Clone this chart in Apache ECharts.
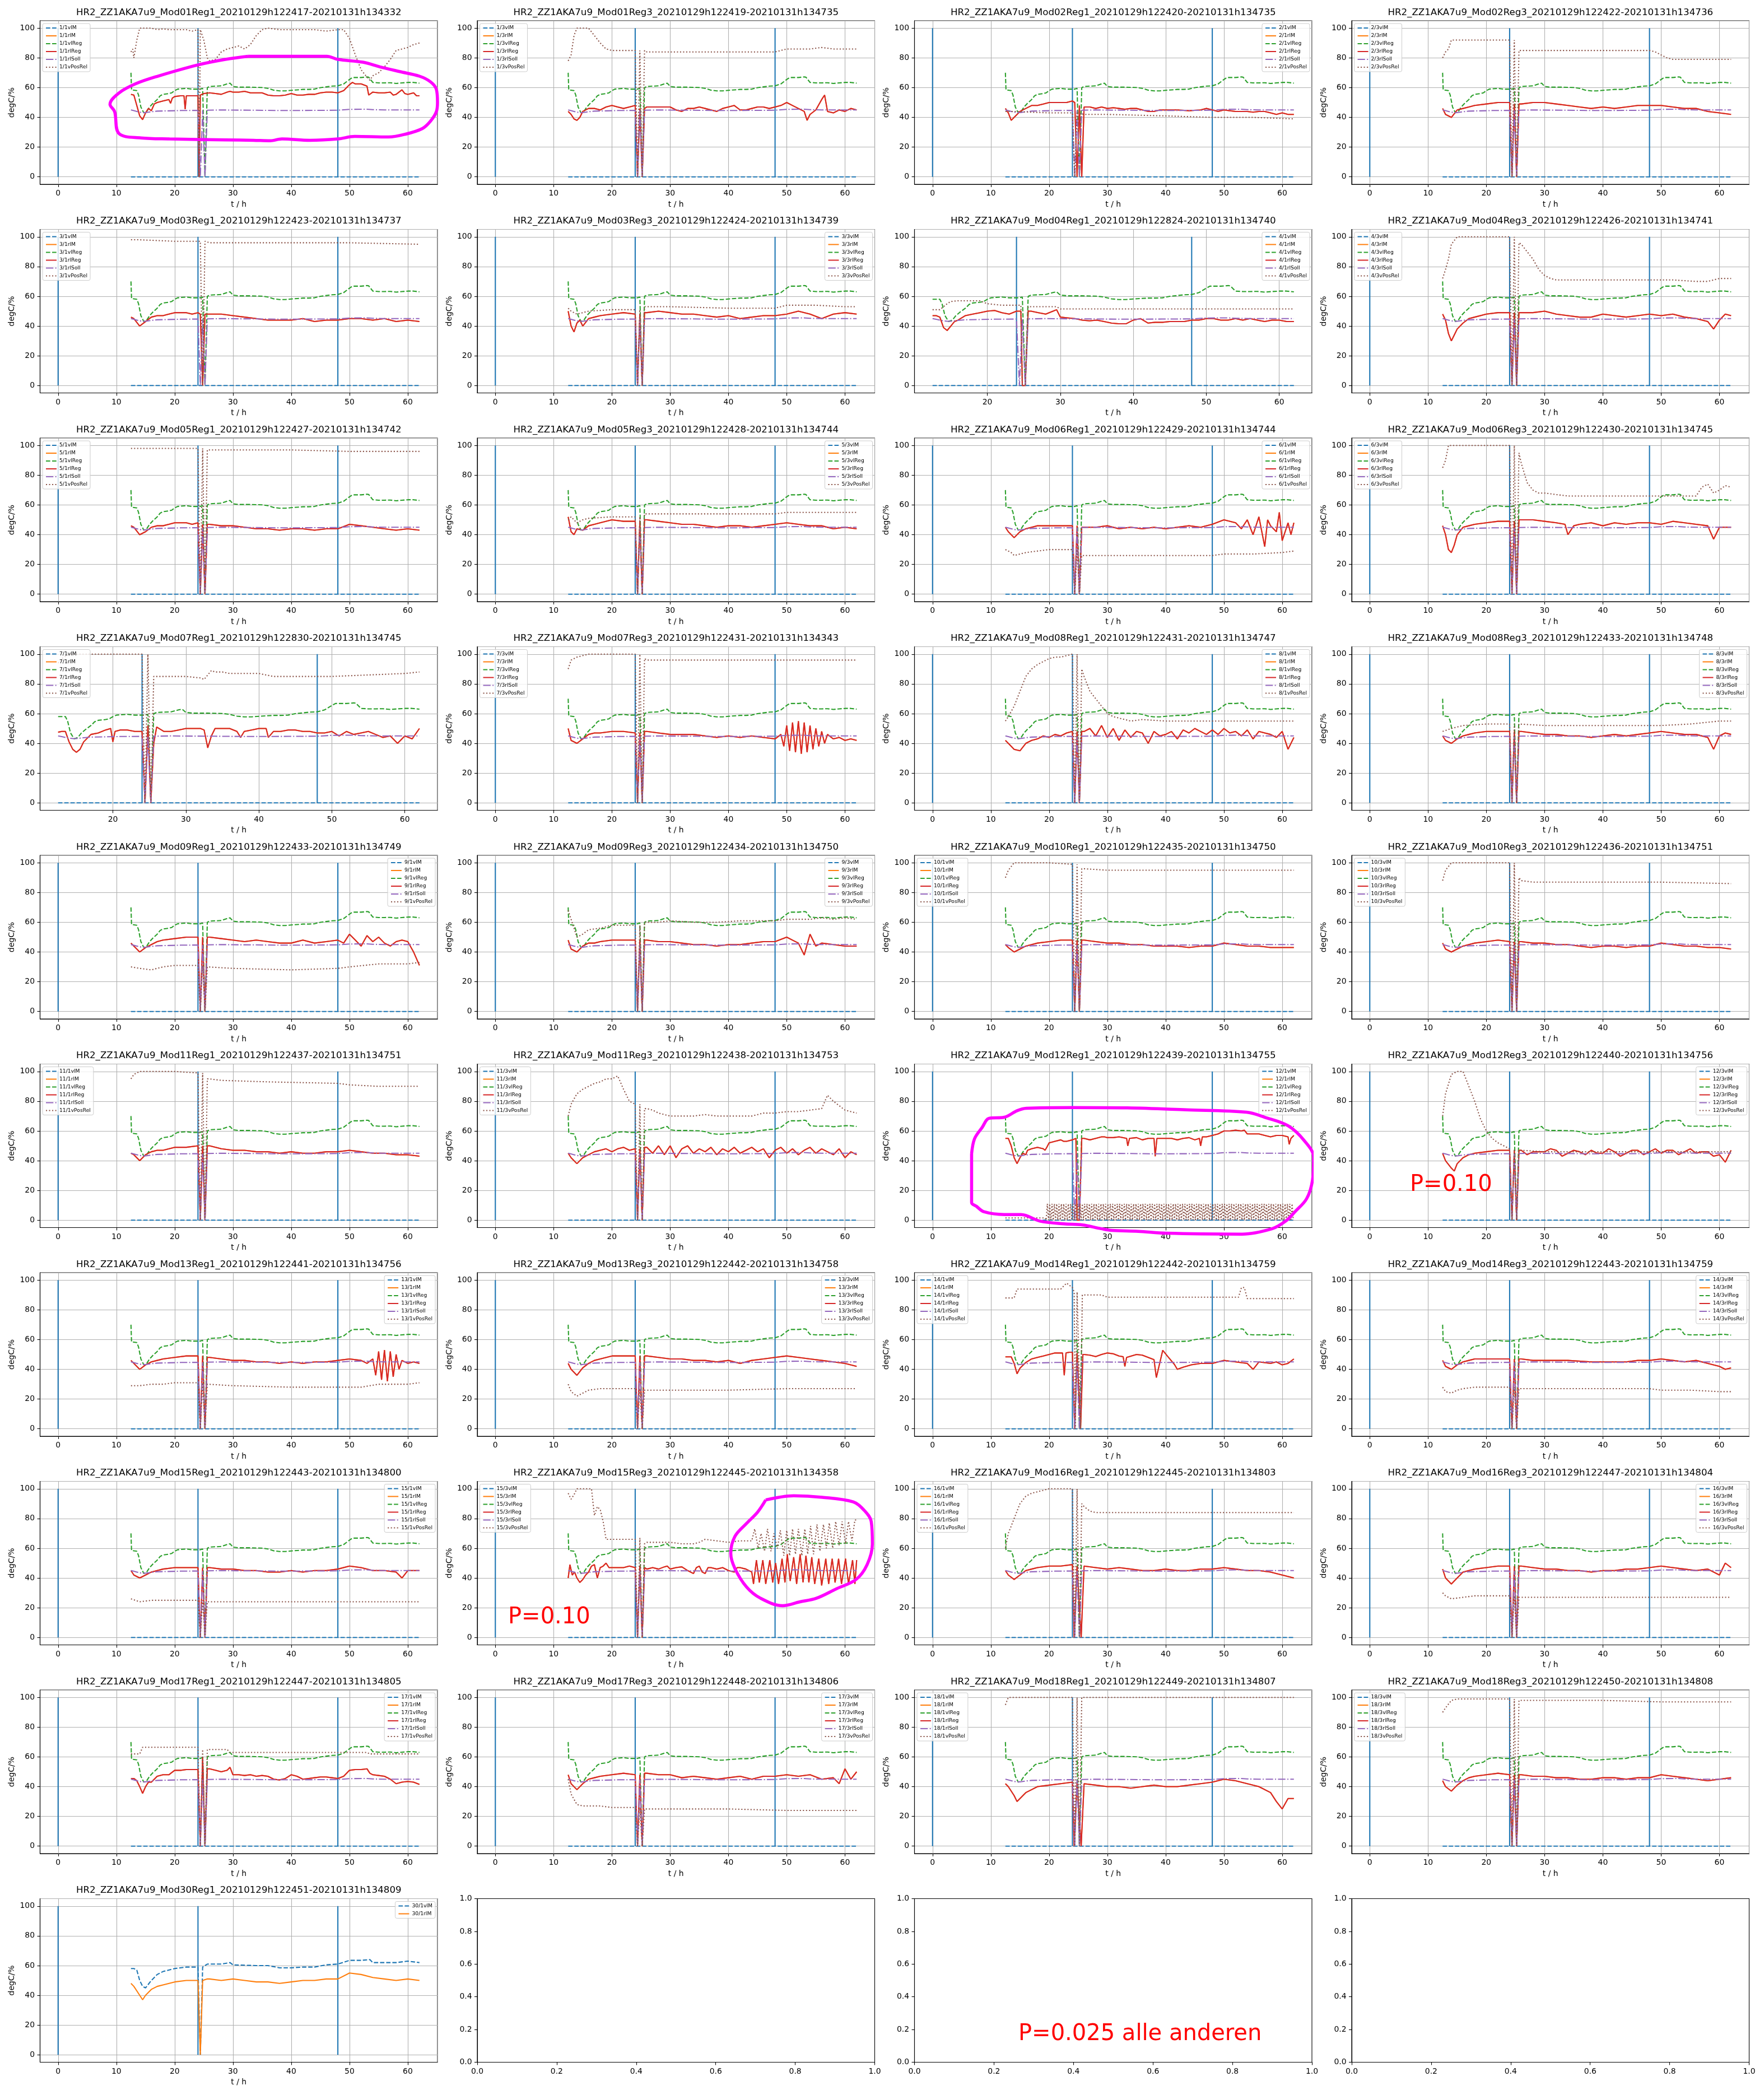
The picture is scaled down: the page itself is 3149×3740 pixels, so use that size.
<!DOCTYPE html>
<html><head><meta charset="utf-8">
<script src="https://cdn.jsdelivr.net/npm/echarts@6/dist/echarts.min.js"></script>
<style>html,body{margin:0;padding:0;background:#fff}#c{width:3149px;height:3740px}</style>
</head><body><div id="c"></div>
<script>
// ---------- shared series (same in nearly every panel) ----------
const GREEN_HEAD70 = [12.5,70];
const GREEN_HEAD58 = [12.5,58];
const GREEN_TAIL = [12.6,58.5, 13.5,58, 13.8,55, 14.2,47, 14.7,43, 15.2,44, 15.7,47, 16.3,49.5, 17,52, 17.5,54.5, 18,55.5, 19,56, 19.5,56.5, 20,58, 20.5,59, 22,59.5, 23,59, 24,59, 24.4,59, 24.8,59.5, 25.2,0, 25.6,60, 26,60.8, 27,61, 28,61.2, 29,62.5, 29.5,63, 30,60.8, 31,60.3, 33,60.3, 35,60.1, 36,59.5, 37,58.3, 38,57.8, 39,57.8, 40,58.2, 41,58.5, 42,58.8, 43,58.8, 44,59, 45,60, 46,60.5, 47,61, 48,61.2, 49,62.5, 50,65.5, 50.5,66.8, 52,66.8, 53,67.2, 53.3,67, 54,63.5, 55,63.2, 56,63.2, 57,63.3, 58,62.8, 59,63.2, 60,63.5, 61,63.5, 62,63];
const SOLL = [12.5,45, 13,44.5, 13.5,44, 14,43.5, 14.5,43.2, 15,43.2, 16,43.8, 17,44.2, 19,44.4, 21,44.6, 24,44.7, 24.4,0, 24.8,44.7, 25.2,0, 25.6,44.8, 28,45, 30,44.9, 34,44.8, 38,44.6, 44,44.7, 48,44.8, 50,45.4, 53,45.5, 54,45.2, 56,45, 62,45];
const VLM = [12.5,0, 62,0];

// ---------- per panel return temperature (rlReg == rlM) and valve position ----------
const rl_M01R1 = [12.5,55.5, 13,55, 13.5,48, 14,41, 14.5,38.5, 15,43, 15.5,46, 16,44.5, 16.5,49, 17,50, 18,51, 19,52, 19.3,49.5, 19.6,53, 20,54, 21,54.5, 21.6,54.5, 21.8,45.5, 22,54.5, 23,54.5, 24,54.5, 24.2,0, 24.4,55, 25,56, 26,56.5, 27,56, 28,55.5, 29,57, 29.5,57.5, 30,57, 31,57, 32,57.5, 33,56.5, 34,56.5, 35,56.5, 36,55, 37,54.5, 38,54.5, 39,55, 40,56, 41,55, 42,55, 43,55.5, 44,55.5, 45,56.5, 46,57, 47,57, 48,56.5, 49,58, 50,62, 50.5,63.5, 51,62.5, 52,62.5, 53,61, 53.3,55, 54,57, 55,56.5, 56,56.5, 57,57, 57.5,55, 58,55.5, 59,58.5, 59.5,56, 60,55.5, 61,56.5, 61.5,54.5, 62,54.5];
const vp_M01R1 = [12.5,84, 12.8,86, 13,80, 13.5,92, 14,100, 15,100, 16,100, 17,99, 18,99.5, 19,99, 20,99, 21,99, 22,99, 23,98, 24,99, 24.2,0, 24.4,99, 25,92, 25.6,80, 26,78, 27,79, 28,84, 29,86, 30,87, 31,88, 32,86, 33,89, 34,95, 35,99, 36,100, 38,99, 40,99, 42,99, 44,99, 46,98, 48,99, 49,99, 50,93, 51,82, 52,72, 53,67, 53.5,65, 54,68, 55,70, 56,74, 57,79, 58,85, 59,86, 60,87, 61,89, 62,90];
const rl_M01R3 = [12.5,44, 13,42, 13.5,39, 14,38, 14.5,40, 15,44, 16,46, 17,46, 18,45, 19,47, 20,48, 21,47, 22,46, 23,47, 24,48, 24.4,0, 24.8,46, 25.2,0, 25.6,46, 26,47, 28,47, 30,47, 31,45, 32,44, 33,46, 34,46, 35,47, 36,46, 37,45, 38,44, 39,46, 40,47, 41,48, 42,45, 43,45, 44,46, 45,47, 46,47, 47,46, 48,47, 49,48, 50,50, 51,48, 52,46, 53,44, 53.5,38, 54,42, 55,45, 56,52, 56.5,55, 57,44, 58,43, 59,45, 60,44, 61,46, 62,45];
const vp_M01R3 = [12.5,78, 13,82, 13.5,95, 14,100, 15,100, 16,100, 17,95, 18,90, 19,86, 20,85, 22,85, 24,85, 24.4,0, 24.8,85, 25.2,0, 25.6,85, 26,84, 30,84, 35,84, 40,84, 45,84, 48,84, 50,86, 52,86, 54,86, 56,87, 58,86, 60,86, 62,86];
const rl_M02R1 = [12.5,46, 13,43, 13.5,38, 14,40, 15,44, 16,46, 17,48, 18,48, 19,49, 20,50, 21,50, 22,50, 23,50, 24,51, 24.4,50, 24.8,0, 25.2,48, 25.6,0, 26,47, 27,47, 28,46, 29,47, 30,46, 31,46.5, 32,46, 33,45.5, 34,46, 35,46, 36,45, 37,44, 38,44, 39,45, 40,45, 42,45, 44,44.5, 46,45, 47,46, 48,45, 49,44, 50,45, 51,44.5, 52,44, 54,44, 55,43.5, 56,44, 57,44, 58,43, 59,42, 60,43, 61,42, 62,42];
const vp_M02R1 = [12.5,44, 14,44, 20,43, 24,43, 24.4,0, 24.8,43, 26,42, 30,42, 40,41, 48,40, 55,40, 62,39];
const rl_M02R3 = [12.5,46, 13,42, 14,40, 15,45, 16,46, 17,47, 18,48, 20,49, 22,50, 24,50, 24.4,0, 24.8,49, 25.2,0, 25.6,49, 26,49, 28,50, 30,50, 32,49, 34,48, 36,47, 38,46, 40,47, 42,46, 44,47, 46,48, 48,48, 50,48, 52,47, 54,46, 56,46, 58,44, 60,43, 62,42];
const vp_M02R3 = [12.5,80, 13,84, 13.5,86, 14,92, 16,92, 18,92, 20,92, 22,92, 24,92, 24.4,0, 24.8,92, 25.2,0, 25.6,85, 26,85, 30,85, 35,85, 40,85, 45,85, 48,85, 49,84, 50,82, 51,80, 52,79, 56,79, 62,79];
const rl_M03R1 = [12.5,46, 13,45, 14,40, 15,43, 16,46, 17,47, 18,47, 19,48, 20,49, 22,49, 23,48, 24,49, 24.4,48, 24.8,0, 25.2,48, 26,48, 28,48, 30,47, 32,46, 34,45, 36,44, 38,44, 40,44, 42,45, 44,43, 46,44, 48,44, 50,45, 52,45, 54,44, 56,45, 58,43, 60,44, 62,43];
const vp_M03R1 = [12.5,98, 14,98, 20,97, 24,97, 24.4,97, 24.8,0, 25.2,97, 26,96, 30,96, 40,96, 50,96, 62,95];
const rl_M03R3 = [12.5,50, 13,40, 13.5,36, 14,42, 14.5,44, 15,40, 16,45, 17,46, 18,47, 20,48, 22,49, 24,48, 24.4,0, 24.8,48, 25.2,0, 25.6,49, 26,49, 28,50, 30,49, 32,48, 34,48, 36,47, 38,46, 40,47, 42,45, 44,46, 46,47, 48,47, 50,48, 52,50, 54,48, 56,45, 58,48, 60,49, 62,48];
const vp_M03R3 = [12.5,52, 13,50, 14,48, 16,50, 20,51, 24,51, 24.4,0, 24.8,51, 25.2,0, 25.6,53, 30,53, 40,52, 48,52, 50,54, 55,54, 60,53, 62,53];
const rl_M04R1 = [12.5,47, 13,47, 13.5,46, 14,39, 14.5,37, 15,40, 15.5,43, 16,44, 17,47, 18,48, 19,49, 20,50, 21,50.5, 22,49, 23,48, 24,50, 24.6,50, 24.8,0, 25.2,0, 25.6,50, 26,50, 27,49, 28,48, 29,50, 29.5,51, 30,46, 31,45.5, 32,45, 33,44, 34,43.5, 35,44, 36,43, 37,42, 38,41.5, 39,41.5, 40,44, 41,45, 42,42, 43,42.5, 44,42.5, 45,43, 46,43, 47,43, 48,44, 49,44, 50,45, 51,45, 52,44, 53,44, 54,45, 55,44, 56,45, 57,44, 58,43, 59,44, 60,44, 61,43, 62,43];
const vp_M04R1 = [12.5,51, 13.5,51, 14,53, 14.5,55, 15,56.5, 16,57, 17,57, 18,57, 19,57, 20,55, 21,54.5, 22,54, 24,54, 24.6,54, 24.8,0, 25.2,0, 25.6,53, 26,53, 29.5,53, 30,51.5, 35,51.5, 40,51.5, 45,51.5, 50,51.5, 55,51.5, 62,51.5];
const rl_M04R3 = [12.5,48, 13,44, 13.5,35, 14,30, 14.5,34, 15,38, 16,42, 17,45, 18,46, 20,48, 22,49, 24,49, 24.4,0, 24.8,49, 25.2,0, 25.6,49, 26,49, 28,49, 30,50, 32,48, 34,47, 36,46, 38,46, 40,48, 42,47, 44,46, 46,47, 48,48, 50,47, 52,48, 54,46, 56,45, 58,43, 59,38, 60,44, 61,48, 62,47];
const vp_M04R3 = [12.5,72, 13,78, 13.5,85, 14,95, 15,100, 17,100, 20,100, 22,100, 24,100, 24.4,0, 24.8,100, 25.2,0, 25.6,96, 26,95, 27,90, 28,85, 29,78, 30,74, 31,72, 32,71, 36,71, 40,71, 44,71, 48,71, 52,71, 56,70, 58,70, 60,72, 62,72];
const rl_M05R1 = [12.5,46, 13,45, 14,40, 15,42, 16,45, 17,46, 18,46, 19,47, 20,48, 22,48, 23,47, 24,48, 24.4,0, 24.8,47, 25.2,0, 25.6,47, 26,47, 28,46, 30,46, 32,45, 34,44, 36,44, 38,43, 40,44, 42,44, 44,43, 46,44, 48,44, 50,47, 52,46, 54,45, 56,44, 58,43, 60,44, 62,43];
const vp_M05R1 = [12.5,98, 14,98, 20,98, 24,98, 24.4,0, 24.8,98, 25.2,0, 25.6,97, 30,97, 40,97, 50,96, 62,96];
const rl_M05R3 = [12.5,52, 13,42, 13.5,40, 14,44, 15,43, 16,46, 17,47, 18,48, 20,50, 22,49, 24,49, 24.4,0, 24.8,49, 25.2,0, 25.6,50, 26,50, 28,49, 30,48, 32,47, 34,47, 36,46, 38,45, 40,46, 42,46, 44,45, 46,46, 48,47, 50,48, 52,47, 54,46, 56,46, 58,44, 60,45, 62,44];
const vp_M05R3 = [12.5,50, 13,52, 14,48, 15,50, 16,51, 20,52, 24,52, 24.4,0, 24.8,52, 25.2,0, 25.6,54, 30,54, 40,54, 48,54, 50,55, 55,55, 60,55, 62,55];
const rl_M06R1 = [12.5,45, 13,42, 14,38, 15,42, 16,44, 17,45, 18,46, 20,46, 22,46, 24,46, 24.4,0, 24.8,46, 25.2,0, 25.6,45, 26,45, 28,45, 30,46, 32,44, 34,45, 36,44, 38,45, 40,44, 42,45, 44,46, 46,45, 48,47, 50,50, 52,48, 53,44, 54,50, 55,40, 56,52, 57,32, 57.5,50, 58,46, 59,42, 59.5,55, 60,36, 61,48, 61.5,40, 62,48];
const vp_M06R1 = [12.5,30, 13.5,28, 14,26, 15,27, 16,28, 18,29, 20,30, 24,30, 24.4,0, 24.8,30, 25.2,0, 25.6,26, 30,26, 40,26, 48,26, 50,27, 55,27, 60,28, 62,29];
const rl_M06R3 = [12.5,46, 13,40, 13.5,30, 14,28, 14.5,33, 15,40, 16,45, 17,46, 18,47, 20,48, 22,49, 24,49, 24.4,0, 24.8,49, 25.2,0, 25.6,50, 26,50, 28,50, 30,49, 32,48, 33.5,47, 34,40, 35,46, 36,47, 38,48, 40,46, 42,48, 44,47, 46,48, 48,48, 50,47, 52,49, 54,48, 56,47, 58,46, 59,37, 60,45, 62,45];
const vp_M06R3 = [12.5,85, 13,90, 13.5,100, 14,100, 16,100, 20,100, 24,100, 24.4,0, 24.8,100, 25.2,0, 25.6,95, 26,88, 27,75, 28,70, 29,68, 30,68, 32,67, 34,66, 40,66, 48,66, 52,66, 56,66, 57,72, 58,74, 59,68, 60,70, 61,73, 62,72];
const rl_M07R1 = [12.5,47.5, 13,48, 13.5,48, 14,41, 14.5,36, 15,34, 15.5,36, 16,41, 17,46, 18,47, 19,49, 19.7,50, 20,41, 20.3,48, 21,49, 22,49, 23,48, 24,48, 24.4,0, 24.8,52, 25.2,0, 25.6,40, 26,51, 27,48, 28,48, 29,49, 30,50, 31,50, 32,50, 32.5,49, 33,37, 33.5,45, 34,50, 35,50, 36,50, 37,48, 37.5,44, 38,48, 39,49, 40,50, 41,50, 41.3,44, 42,48, 43,48, 44,49, 45,49, 46,48, 47,48, 48,47, 49,47, 50,48, 51,45, 52,48, 53,46, 54,47, 55,48, 56,46, 57,44, 58,45, 59,40, 60,45, 61,43, 62,50];
const vp_M07R1 = [12.5,94, 13,97, 14,100, 16,100, 20,100, 24,100, 24.4,0, 24.8,100, 25.2,0, 25.6,85, 26,85, 28,85, 30,85, 32,84, 32.5,83, 33,86, 33.5,89, 34,88, 35,88, 36,87, 38,87, 40,87, 41,86, 42,85, 44,85, 48,85, 50,85, 55,86, 60,87, 62,88];
const rl_M07R3 = [12.5,50, 13,42, 14,40, 15,43, 16,46, 17,47, 18,47, 20,48, 22,48, 24,47, 24.4,0, 24.8,47, 25.2,0, 25.6,48, 26,48, 28,47, 30,46, 32,46, 34,46, 36,45, 38,44, 40,45, 42,44, 44,45, 46,44, 48,43, 49,46, 49.5,38, 50,52, 50.5,35, 51,54, 51.5,34, 52,55, 52.5,33, 53,54, 53.5,34, 54,52, 54.5,36, 55,50, 55.5,38, 56,48, 56.5,40, 57,46, 58,43, 59,44, 60,42, 61,43, 62,42];
const vp_M07R3 = [12.5,90, 13,96, 14,98, 16,100, 20,100, 24,100, 24.4,0, 24.8,100, 25.2,0, 25.6,97, 26,96, 30,96, 40,96, 50,96, 62,96];
const rl_M08R1 = [12.5,42, 13,40, 14,36, 15,35, 16,40, 17,42, 18,43, 19,45, 20,44, 21,46, 22,45, 23,47, 24,48, 24.4,0, 24.8,48, 25.2,0, 25.6,48, 26,48, 27,50, 28,45, 29,52, 30,44, 31,50, 32,42, 33,49, 34,44, 35,48, 36,47, 37,40, 38,48, 39,45, 40,46, 41,48, 42,43, 43,49, 44,47, 45,50, 46,48, 47,46, 48,49, 49,46, 50,50, 51,47, 52,48, 53,45, 54,49, 55,43, 56,48, 57,47, 58,46, 59,44, 60,48, 61,36, 62,44];
const vp_M08R1 = [12.5,55, 13,58, 14,65, 15,75, 16,85, 17,90, 18,93, 19,95, 20,97, 21,98, 22,98, 23,99, 24,100, 24.4,0, 24.8,100, 25.2,0, 25.6,90, 26,85, 27,75, 28,70, 29,65, 30,60, 31,58, 32,57, 33,56, 34,55, 36,56, 40,55, 50,55, 62,55];
const rl_M08R3 = [12.5,45, 13,42, 14,40, 15,43, 16,45, 17,46, 18,47, 20,48, 22,48, 24,48, 24.4,0, 24.8,48, 25.2,0, 25.6,48, 26,48, 28,47, 30,46, 32,46, 34,45, 36,45, 38,44, 40,45, 42,46, 44,45, 46,46, 48,47, 50,48, 52,47, 54,46, 56,46, 58,44, 59,36, 60,45, 61,47, 62,46];
const vp_M08R3 = [12.5,48, 14,50, 16,52, 20,53, 24,53, 24.4,0, 24.8,53, 25.2,0, 25.6,53, 30,52, 40,52, 48,52, 50,52, 55,53, 60,55, 62,55];
const rl_M09R1 = [12.5,46, 13,44, 14,40, 15,43, 16,45, 17,47, 18,48, 20,49, 22,50, 24,50, 24.4,0, 24.8,50, 25.2,0, 25.6,50, 26,50, 28,49, 30,48, 32,47, 34,48, 36,47, 38,46, 40,46, 42,48, 44,46, 46,47, 48,48, 49,46, 50,52, 51,48, 52,44, 53,51, 54,47, 55,50, 56,46, 57,44, 58,47, 59,48, 60,47, 61,40, 62,31];
const vp_M09R1 = [12.5,30, 14,29, 16,28, 18,30, 20,31, 24,31, 24.4,0, 24.8,31, 25.2,0, 25.6,30, 30,29, 40,28, 48,29, 50,30, 55,32, 60,32, 62,33];
const rl_M09R3 = [12.5,48, 13,42, 14,40, 15,44, 16,46, 17,46, 18,47, 20,48, 22,48, 24,48, 24.4,0, 24.8,48, 25.2,0, 25.6,48, 26,48, 28,47, 30,47, 32,46, 34,45, 36,45, 38,44, 40,45, 42,45, 44,46, 46,47, 48,47, 50,50, 51,48, 52,46, 53,38, 54,52, 55,44, 56,46, 58,45, 60,44, 62,44];
const vp_M09R3 = [12.5,68, 13,62, 14,50, 15,52, 16,55, 18,56, 20,58, 24,58, 24.4,0, 24.8,58, 25.2,0, 25.6,60, 28,60, 30,61, 34,60, 38,60, 42,61, 46,61, 48,61, 50,62, 54,62, 56,63, 58,62, 60,63, 62,62];
const rl_M10R1 = [12.5,45, 13,43, 14,40, 15,42, 16,44, 17,45, 18,46, 20,47, 22,48, 24,48, 24.4,0, 24.8,48, 25.2,0, 25.6,48, 26,48, 28,47, 30,46, 32,46, 34,45, 36,45, 38,44, 40,44, 42,44, 44,43, 46,44, 48,44, 50,46, 52,45, 54,44, 56,44, 58,43, 60,43, 62,43];
const vp_M10R1 = [12.5,90, 13,95, 14,100, 16,100, 20,100, 24,99, 24.4,0, 24.8,99, 25.2,0, 25.6,96, 26,96, 30,95, 40,95, 50,95, 62,95];
const rl_M10R3 = [12.5,46, 13,42, 14,40, 15,42, 16,44, 17,45, 18,46, 20,47, 22,48, 24,47, 24.4,0, 24.8,47, 25.2,0, 25.6,47, 26,47, 28,46, 30,46, 32,45, 34,45, 36,44, 38,43, 40,44, 42,44, 44,43, 46,44, 48,44, 50,46, 52,45, 54,44, 56,44, 58,43, 60,43, 62,42];
const vp_M10R3 = [12.5,88, 13,95, 14,100, 16,100, 20,100, 24,100, 24.4,0, 24.8,100, 25.2,0, 25.6,90, 26,88, 28,87, 40,87, 50,87, 62,86];
const rl_M11R1 = [12.5,45, 13,44, 14,40, 15,44, 16,46, 17,47, 18,47, 20,49, 22,49, 24,50, 24.4,0, 24.8,50, 25.2,0, 25.6,50, 26,50, 28,48, 30,47, 32,47, 34,46, 36,46, 38,45, 40,46, 42,45, 44,45, 46,46, 48,46, 50,47, 52,46, 54,45, 56,45, 58,44, 60,44, 62,43];
const vp_M11R1 = [12.5,95, 13,98, 14,100, 16,100, 20,100, 24,99, 24.4,0, 24.8,99, 25.2,0, 25.6,95, 26,95, 28,94, 36,93, 48,92, 50,91, 55,90, 62,90];
const rl_M11R3 = [12.5,45, 13,42, 14,38, 15,42, 16,44, 17,46, 18,47, 19,48, 20,46, 21,48, 22,49, 23,47, 24,48, 24.4,0, 24.8,48, 25.2,0, 25.6,49, 26,49, 27,45, 28,50, 29,44, 30,50, 31,42, 32,48, 33,50, 34,45, 35,48, 36,46, 37,49, 38,44, 39,48, 40,46, 41,49, 42,45, 43,47, 44,49, 45,46, 46,48, 47,42, 48,47, 49,49, 50,45, 51,48, 52,44, 53,47, 54,49, 55,45, 56,48, 57,46, 58,44, 59,48, 60,42, 61,46, 62,44];
const vp_M11R3 = [12.5,70, 13,78, 14,85, 15,88, 16,90, 17,92, 18,93, 19,95, 20,95, 21,97, 22,88, 23,80, 24,78, 24.4,0, 24.8,78, 25.2,0, 25.6,75, 26,75, 27,74, 28,72, 30,70, 34,70, 36,71, 38,70, 44,70, 46,72, 48,72, 50,73, 52,73, 54,74, 56,75, 57,84, 58,80, 60,74, 62,72];
const rl_M12R1 = [12.5,55, 13,55, 13.5,50, 14,42, 14.5,38, 15,42, 15.5,45, 16,44, 16.3,47, 17,48, 18,49, 19,48, 19.3,47, 19.6,49, 20,52, 21,53, 22,54, 22.5,53, 23,53, 24,54, 24.6,55, 24.8,0, 25.2,0, 25.6,55, 26,55, 27,54, 28,55, 29,56, 29.5,56, 30,55.5, 31,55.5, 32,56, 33.3,55, 33.5,50, 33.8,55, 35,55.5, 36,54, 37,55, 38,55, 38.2,43, 38.5,55, 39,55, 40,55, 41,55, 42,54, 43,55, 44,55.5, 45,54, 45.8,55, 46,50, 46.3,56, 47,56, 48,57, 49,58, 50,60, 51,60, 52,60.5, 53,60, 53.5,60.5, 54,58, 55,58, 56,58, 57,57, 58,56, 59,57, 60,57, 61,56, 61.2,51, 61.5,55, 62,57];
const vp_M12R1_low = [12.5,1.5, 19.3,1.5];
const vp_M12R1_osc_t0 = 19.5, vp_M12R1_osc_dt = 0.2;
const vp_M12R1_osc = [
0,11,0,11,0,11,0,11,0,11,0,11,0,11,0,11,0,11,0,11,
0,11,0,11,0,11,0,11,0,11,0,11,0,11,0,11,0,11,0,11,
0,11,0,11,0,11,0,11,0,11,0,11,0,11,0,11,0,11,0,11,
0,11,0,11,0,11,0,11,0,11,0,11,0,11,0,11,0,11,0,11,
0,11,0,11,0,11,0,11,0,11,0,11,0,11,0,11,0,11,0,11,
0,11,0,11,0,11,0,11,0,11,0,11,0,11,0,11,0,11,0,11,
0,11,0,11,0,11,0,11,0,11,0,11,0,11,0,11,0,11,0,11,
0,11,0,11,0,11,0,11,0,11,0,11,0,11,0,11,0,11,0,11,
0,11,0,11,0,11,0,11,0,11,0,11,0,11,0,11,0,11,0,11,
0,11,0,11,0,11,0,11,0,11,0,11,0,11,0,11,0,11,0,11,
0,11,0,11,0,11,0,11,0,11,0,11,0];
const rl_M12R3 = [12.5,45, 13,40, 14,35, 14.5,33, 15,38, 16,42, 17,44, 18,45, 20,46, 22,47, 24,47, 24.4,0, 24.8,47, 25.2,0, 25.6,47, 26,47, 27,44, 28,46, 30,46, 31,48, 32,47, 33,43, 34,45, 35,47, 36,46, 37,44, 38,47, 39,45, 40,45, 41,48, 42,46, 43,43, 44,45, 45,47, 46,47, 47,44, 48,46, 49,48, 50,45, 51,47, 52,47, 53,44, 54,46, 55,48, 56,45, 57,46, 58,46, 59,43, 60,44, 61,39, 62,47];
const vp_M12R3 = [12.5,70, 13,85, 14,98, 15,100, 16,100, 17,90, 18,80, 19,68, 20,60, 21,55, 22,52, 23,50, 24,48, 24.4,0, 24.8,48, 25.2,0, 25.6,47, 26,47, 30,46, 40,46, 50,46, 62,46];
const rl_M13R1 = [12.5,46, 13,44, 14,40, 15,43, 16,45, 17,46, 18,47, 20,48, 22,49, 24,49, 24.4,0, 24.8,49, 25.2,0, 25.6,48, 26,48, 28,47, 30,46, 32,46, 34,45, 36,45, 38,44, 40,45, 42,44, 44,45, 46,45, 48,46, 50,47, 52,46, 53,44, 54,47, 54.5,36, 55,52, 55.5,33, 56,53, 56.5,32, 57,52, 57.5,35, 58,50, 58.5,40, 59,46, 60,44, 61,45, 62,44];
const vp_M13R1 = [12.5,29, 14,29, 16,30, 18,30, 20,31, 24,31, 24.4,0, 24.8,31, 25.2,0, 25.6,30, 30,29, 40,28, 48,28, 52,28, 55,30, 60,30, 62,31];
const rl_M13R3 = [12.5,44, 13,40, 14,36, 15,41, 16,44, 17,46, 18,47, 20,49, 22,49, 24,49, 24.4,0, 24.8,49, 25.2,0, 25.6,49, 26,49, 28,48, 30,47, 32,47, 34,46, 36,46, 38,45, 40,46, 42,44, 44,46, 46,47, 48,48, 50,49, 52,48, 54,47, 56,46, 58,45, 60,44, 62,42];
const vp_M13R3 = [12.5,30, 13,25, 14,22, 15,24, 16,26, 18,27, 20,27, 24,27, 24.4,0, 24.8,27, 25.2,0, 25.6,26, 30,26, 40,26, 50,27, 62,27];
const rl_M14R1 = [12.5,48.4, 13.5,48.4, 14,44, 14.5,37, 15,40.8, 16,44.6, 17,47, 18,48, 19,49, 20,50, 21,51, 22.3,51, 22.6,36, 22.9,51, 23.5,51.5, 24,51.5, 24.4,0, 24.8,51, 25.4,0, 25.8,50, 26,50, 27,49.5, 28,48.6, 29,50, 30,51, 31,50.5, 32,49, 32.7,48.5, 33,42, 33.3,48, 35,50, 36,49.5, 37,48, 38,46.5, 38.4,34.5, 39.5,52.8, 40.5,48, 41.5,43.3, 42,40, 43,41.4, 44.4,43, 46,44, 48,44, 50,46, 52,45, 54,44, 55,40, 56,45, 58,44, 59,45, 60,43, 61,44, 62,47];
const vp_M14R1 = [12.5,88, 14,88, 14.5,94, 22,94, 23,98, 24,95, 24.3,92, 24.5,0, 24.8,92, 25.4,0, 25.7,90, 26,90, 29,90, 30,88.5, 40,88.5, 52.5,88.5, 53,95, 53.5,95, 54,87.6, 62,87.6];
const rl_M14R3 = [12.5,46, 13,42, 14,40, 15,43, 16,45, 17,46, 18,47, 20,47, 22,47, 24,47, 24.4,0, 24.8,47, 25.2,0, 25.6,47, 26,47, 28,46, 30,46, 34,46, 38,45, 42,45, 44,45, 46,46, 48,46, 50,47, 52,46, 54,45, 56,46, 58,44, 60,42, 61,40, 62,41];
const vp_M14R3 = [12.5,28, 13,25, 14,24, 15,26, 16,27, 18,28, 24,28, 24.4,0, 24.8,28, 25.2,0, 25.6,27, 30,27, 40,27, 48,27, 50,26, 55,26, 60,25, 62,25];
const rl_M15R1 = [12.5,45, 13,42, 14,40, 15,42, 16,44, 17,45, 18,46, 20,47, 22,47, 24,47, 24.4,0, 24.8,47, 25.2,0, 25.6,47, 26,47, 28,46, 30,46, 32,45, 34,45, 36,44, 38,44, 40,45, 42,44, 44,45, 46,45, 48,46, 50,48, 52,47, 54,45, 56,45, 58,44, 59,40, 60,45, 62,45];
const vp_M15R1 = [12.5,26, 14,24, 16,25, 24,25, 24.4,0, 24.8,25, 25.2,0, 25.6,24, 30,24, 40,24, 50,24, 62,24];
const rl_M15R3 = [12.5,40, 12.8,49, 13.2,42, 13.6,44, 14,40, 14.5,37, 15,39, 15.5,42, 16,44, 16.5,48, 17,49, 17.5,40, 18,47, 18.5,48, 19,50, 19.5,47, 20,47, 21,47, 22,47, 23,48, 24,47, 24.4,0, 24.8,48, 25.2,0, 25.6,47, 26,46, 27,47, 28,46, 29,47.5, 29.5,48, 30,46, 31,47, 32,47.5, 33,45, 34,43, 34.5,47, 35,48, 35.5,44, 36,43, 36.5,47, 37,47, 38,46, 39,47, 40,45, 41,44, 41.5,47, 42,47, 43,46, 44,44, 44.3,36, 44.8,52, 45.3,37, 45.9,52, 46.4,36, 47.1,52, 47.6,37, 48.1,50, 48.6,36, 49.2,53, 49.7,37, 50.1,56, 50.6,38, 51.2,54, 51.7,36, 52.3,56, 52.8,37, 53.3,55, 53.8,37, 54.3,54, 54.8,36, 55.5,53, 56,35, 56.7,53, 57.2,36, 57.8,53, 58.3,37, 58.9,53, 59.4,36, 60.1,53, 60.6,36, 61.3,52, 61.7,36, 62,52];
const vp_M15R3 = [12.5,97, 13,93, 13.5,96, 14,100, 15,100, 16,100, 16.5,100, 17,82, 17.5,88, 18,86, 18.5,78, 19,66, 20,66, 22,66, 24,66, 24.4,0, 24.8,67, 25.2,0, 25.6,63, 26,64, 28,64, 30,64, 32,63, 34,63, 35,64, 36,66, 38,65, 40,64, 42,65, 44,65, 44.5,73, 45.1,60, 45.6,70, 46.2,58, 46.7,73, 47.3,58, 47.8,70, 48.4,60, 48.9,72, 49.5,55, 50,72, 50.5,55, 51,73, 51.5,56, 52,73, 52.6,55, 53.1,73, 53.6,56, 54.1,75, 54.6,56, 55.2,76, 55.7,58, 56.3,76, 56.8,60, 57.3,77, 57.9,60, 58.4,78, 59,62, 59.5,78, 60.1,63, 60.6,78, 61.2,65, 61.7,79, 62,79];
const rl_M16R1 = [12.5,45, 13,42, 14,39, 15,42, 16,45, 17,46, 18,47, 20,48, 22,48, 24,49, 24.3,0, 24.8,48, 25.5,0, 26,48, 28,47, 30,46, 32,47, 34,46, 36,45, 38,45, 40,46, 42,45, 44,45, 46,46, 48,46, 50,47, 52,46, 54,45, 56,45, 58,44, 60,42, 62,40];
const vp_M16R1 = [12.5,60, 13,70, 14,80, 15,90, 16,95, 17,97, 18,98, 19,99, 20,100, 24,100, 24.4,0, 24.8,100, 25.2,0, 25.6,90, 26,88, 27,85, 28,84, 40,84, 50,84, 62,84];
const rl_M16R3 = [12.5,46, 13,40, 14,36, 15,40, 16,44, 17,45, 18,46, 20,47, 22,48, 24,48, 24.4,0, 24.8,48, 25.2,0, 25.6,48, 26,48, 28,47, 30,46, 32,46, 34,45, 36,45, 38,44, 40,45, 42,45, 44,46, 46,46, 48,47, 50,48, 52,47, 54,46, 56,45, 58,46, 60,42, 61,50, 62,47];
const vp_M16R3 = [12.5,30, 13,28, 14,26, 16,27, 18,28, 24,28, 24.4,0, 24.8,28, 25.2,0, 25.6,27, 40,27, 62,27];
const rl_M17R1 = [12.5,45.5, 13,45.5, 13.5,44, 14,40, 14.5,35.5, 15,40, 15.5,43, 16,43, 17,47, 18,48, 19,48, 20,51, 21,51, 22,51.5, 23,51.5, 24,51.5, 24.4,0, 24.8,60, 25.2,0, 25.6,52, 26,52, 27,51, 28,50, 29,51, 29.5,53, 30,48, 31,48, 32,47.5, 33,48, 34,47, 35,47.5, 36,47, 37,45, 38,44.5, 39,45.5, 40,48, 41,47, 42,45, 43,45.5, 44,46, 45,46.5, 46,46.5, 47,46, 48,45.5, 49,47, 50,51, 51,51.5, 52,51.5, 53,52, 53.5,49, 54,48, 55,47.5, 56,47, 57,45, 58,42, 59,43, 60,43.5, 61,43, 62,41.5];
const vp_M17R1 = [12.5,62, 14,62, 14.5,66.5, 20,66.5, 24,66.5, 24.4,0, 24.8,65, 25.2,0, 25.6,65, 26,65, 29,65, 29.5,63, 40,63, 53,63, 53.5,62, 62,62];
const rl_M17R3 = [12.5,48, 13,42, 14,38, 15,42, 16,45, 17,46, 18,47, 20,48, 22,49, 24,48, 24.4,0, 24.8,48, 25.2,0, 25.6,49, 26,49, 28,48, 30,48, 32,46, 34,47, 36,46, 38,45, 40,46, 42,47, 44,45, 46,47, 48,47, 50,48, 52,47, 54,48, 56,45, 58,46, 59,42, 60,52, 61,45, 62,50];
const vp_M17R3 = [12.5,45, 13,35, 14,28, 15,27, 16,27, 18,27, 20,26, 24,26, 24.4,0, 24.8,26, 25.2,0, 25.6,25, 30,25, 40,25, 50,24, 62,24];
const rl_M18R1 = [12.5,42, 13,40, 14,34, 14.5,30, 15,32, 16,36, 17,38, 18,40, 20,41, 22,42, 24,43, 24.3,0, 24.8,43, 25.5,0, 26,42, 28,41, 30,40, 32,40, 34,39, 36,40, 38,41, 40,40, 42,40, 44,41, 46,42, 48,43, 50,45, 52,44, 54,42, 56,40, 58,36, 59,30, 60,25, 61,32, 62,32];
const vp_M18R1 = [12.5,95, 13,100, 20,100, 24,100, 24.4,0, 24.8,100, 25.2,0, 25.6,100, 40,100, 62,100];
const rl_M18R3 = [12.5,44, 13,40, 14,37, 15,41, 16,44, 17,46, 18,47, 20,48, 22,49, 24,48, 24.4,0, 24.8,48, 25.2,0, 25.6,48, 26,48, 28,47, 30,47, 32,46, 34,46, 36,45, 38,45, 40,46, 42,46, 44,45, 46,46, 48,46, 50,48, 52,47, 54,46, 56,45, 58,44, 60,45, 62,46];
const vp_M18R3 = [12.5,90, 13,93, 14,98, 15,99, 24,99, 24.4,0, 24.8,99, 25.2,0, 25.6,98, 40,98, 50,97, 62,97];
const vl_M30R1 = [12.5,58, 13,58, 13.5,57, 14,50, 14.5,46, 15,45, 16,50, 17,54, 18,56, 20,58, 22,59, 24,59, 24.4,0, 24.8,59, 25.6,61, 26,61, 28,61, 29.5,62, 30,60.5, 34,60, 36,60, 38,58.5, 40,58.5, 42,59, 44,59, 46,60.5, 48,61, 50,63.5, 52,63.5, 53.5,64, 54,62, 56,62, 58,62, 60,63, 62,62];
const rl_M30R1 = [12.5,48, 13,46, 14,40, 14.5,37, 15,40, 16,44, 17,46, 18,47, 20,49, 22,50, 24,50, 24.4,0, 24.8,50, 25.6,51, 26,51, 28,50, 30,51, 32,50, 34,49, 36,49, 38,48, 40,49, 42,50, 44,50, 46,51, 48,51, 50,55, 52,54, 54,52, 56,51, 58,50, 60,51, 62,50];

// ---------- panel metadata ----------
const panelTitles = [
'HR2_ZZ1AKA7u9_Mod01Reg1_20210129h122417-20210131h134332','HR2_ZZ1AKA7u9_Mod01Reg3_20210129h122419-20210131h134735','HR2_ZZ1AKA7u9_Mod02Reg1_20210129h122420-20210131h134735','HR2_ZZ1AKA7u9_Mod02Reg3_20210129h122422-20210131h134736',
'HR2_ZZ1AKA7u9_Mod03Reg1_20210129h122423-20210131h134737','HR2_ZZ1AKA7u9_Mod03Reg3_20210129h122424-20210131h134739','HR2_ZZ1AKA7u9_Mod04Reg1_20210129h122824-20210131h134740','HR2_ZZ1AKA7u9_Mod04Reg3_20210129h122426-20210131h134741',
'HR2_ZZ1AKA7u9_Mod05Reg1_20210129h122427-20210131h134742','HR2_ZZ1AKA7u9_Mod05Reg3_20210129h122428-20210131h134744','HR2_ZZ1AKA7u9_Mod06Reg1_20210129h122429-20210131h134744','HR2_ZZ1AKA7u9_Mod06Reg3_20210129h122430-20210131h134745',
'HR2_ZZ1AKA7u9_Mod07Reg1_20210129h122830-20210131h134745','HR2_ZZ1AKA7u9_Mod07Reg3_20210129h122431-20210131h134343','HR2_ZZ1AKA7u9_Mod08Reg1_20210129h122431-20210131h134747','HR2_ZZ1AKA7u9_Mod08Reg3_20210129h122433-20210131h134748',
'HR2_ZZ1AKA7u9_Mod09Reg1_20210129h122433-20210131h134749','HR2_ZZ1AKA7u9_Mod09Reg3_20210129h122434-20210131h134750','HR2_ZZ1AKA7u9_Mod10Reg1_20210129h122435-20210131h134750','HR2_ZZ1AKA7u9_Mod10Reg3_20210129h122436-20210131h134751',
'HR2_ZZ1AKA7u9_Mod11Reg1_20210129h122437-20210131h134751','HR2_ZZ1AKA7u9_Mod11Reg3_20210129h122438-20210131h134753','HR2_ZZ1AKA7u9_Mod12Reg1_20210129h122439-20210131h134755','HR2_ZZ1AKA7u9_Mod12Reg3_20210129h122440-20210131h134756',
'HR2_ZZ1AKA7u9_Mod13Reg1_20210129h122441-20210131h134756','HR2_ZZ1AKA7u9_Mod13Reg3_20210129h122442-20210131h134758','HR2_ZZ1AKA7u9_Mod14Reg1_20210129h122442-20210131h134759','HR2_ZZ1AKA7u9_Mod14Reg3_20210129h122443-20210131h134759',
'HR2_ZZ1AKA7u9_Mod15Reg1_20210129h122443-20210131h134800','HR2_ZZ1AKA7u9_Mod15Reg3_20210129h122445-20210131h134358','HR2_ZZ1AKA7u9_Mod16Reg1_20210129h122445-20210131h134803','HR2_ZZ1AKA7u9_Mod16Reg3_20210129h122447-20210131h134804',
'HR2_ZZ1AKA7u9_Mod17Reg1_20210129h122447-20210131h134805','HR2_ZZ1AKA7u9_Mod17Reg3_20210129h122448-20210131h134806','HR2_ZZ1AKA7u9_Mod18Reg1_20210129h122449-20210131h134807','HR2_ZZ1AKA7u9_Mod18Reg3_20210129h122450-20210131h134808',
'HR2_ZZ1AKA7u9_Mod30Reg1_20210129h122451-20210131h134809'];
const panelPrefix = ['1/1','1/3','2/1','2/3','3/1','3/3','4/1','4/3','5/1','5/3','6/1','6/3','7/1','7/3','8/1','8/3','9/1','9/3','10/1','10/3','11/1','11/3','12/1','12/3','13/1','13/3','14/1','14/3','15/1','15/3','16/1','16/3','17/1','17/3','18/1','18/3','30/1'];
const legendSide = ['L','L','R','L','L','R','R','L','L','R','R','L','L','L','R','R','R','R','L','L','L','L','R','R','R','R','L','R','R','L','L','R','R','R','L','L','R'];
const panelRl = [rl_M01R1,rl_M01R3,rl_M02R1,rl_M02R3,rl_M03R1,rl_M03R3,rl_M04R1,rl_M04R3,rl_M05R1,rl_M05R3,rl_M06R1,rl_M06R3,rl_M07R1,rl_M07R3,rl_M08R1,rl_M08R3,rl_M09R1,rl_M09R3,rl_M10R1,rl_M10R3,rl_M11R1,rl_M11R3,rl_M12R1,rl_M12R3,rl_M13R1,rl_M13R3,rl_M14R1,rl_M14R3,rl_M15R1,rl_M15R3,rl_M16R1,rl_M16R3,rl_M17R1,rl_M17R3,rl_M18R1,rl_M18R3];
const panelVp = [vp_M01R1,vp_M01R3,vp_M02R1,vp_M02R3,vp_M03R1,vp_M03R3,vp_M04R1,vp_M04R3,vp_M05R1,vp_M05R3,vp_M06R1,vp_M06R3,vp_M07R1,vp_M07R3,vp_M08R1,vp_M08R3,vp_M09R1,vp_M09R3,vp_M10R1,vp_M10R3,vp_M11R1,vp_M11R3,null,vp_M12R3,vp_M13R1,vp_M13R3,vp_M14R1,vp_M14R3,vp_M15R1,vp_M15R3,vp_M16R1,vp_M16R3,vp_M17R1,vp_M17R3,vp_M18R1,vp_M18R3];
const dayLines = [0, 24, 48];
const shortPanels = [6, 12];          // panels whose data begin at 12.5 h (no 0 h marker)
const xRangeFull = [-3.1, 65.1];
const xRangeShort = [10.025, 64.475];
const yRange = [-5, 105];

// hand-drawn annotation loops (in the data coordinates of their panel)
const loopMod01Reg1 = [32.6,81.1, 46.1,81.1, 48,79, 52.3,77.1, 55.2,74, 58.6,70.8, 62,67.7, 63.9,63.9, 64.9,58.9, 65.1,50.1, 64.9,43.8, 63.9,37.5, 62.5,32.5, 59.6,28.7, 56.7,26.8, 50.9,27.2, 48,25.5, 43.2,24.6, 38.4,25.5, 36.4,24.3, 33.5,24.6, 28.7,24.9, 19.1,25.5, 14.2,26.2, 10.4,29.3, 9.7,43.8, 8.9,48.8, 10.4,56.3, 13.3,62.6, 17.1,67.7, 23.9,75.2, 28.7,79, 32.6,81.1];
const loopMod12Reg1 = [6.7,44.6, 7.2,54.7, 8.5,62.3, 9.7,68.5, 12.3,69.2, 14.5,73.6, 16.1,75.2, 23.8,75.7, 33.4,75.5, 43.6,74.2, 53.9,72.6, 57,69.2, 61,63.5, 63.8,53.4, 65.4,42.1, 65.2,27, 64.2,14.5, 62.2,5.7, 60.6,-0.6, 58.3,-5.7, 53.1,-9.4, 40.1,-8.8, 35.3,-7.5, 30.8,-6.9, 28.9,-5.7, 25.7,-3.2, 22.5,-2.5, 18.4,-0.6, 15.2,3.8, 12.3,3.8, 8.8,5.7, 7.5,9.4, 6.7,11.9, 6.7,44.6];
const loopMod15Reg3 = [46.4,92.5, 51.2,95.3, 56.1,94.3, 61.4,91.2, 63.3,85.5, 64.5,78, 64.7,62.9, 63.8,49, 61.9,39, 58.5,32.7, 55.1,26.4, 52.2,23.9, 49.3,21.4, 45.5,26.4, 43.1,34, 41.1,46.5, 40.4,56.6, 41.1,67.9, 43.1,76.7, 45,84.3, 46.4,92.5];
const annotTexts = [
  {text:'P=0.10', x:907, y:2888},
  {text:'P=0.10', x:2517, y:2116},
  {text:'P=0.025 alle anderen', x:1818, y:3632}
];

// ---------- layout ----------
const W = 3149, H = 3740;
const GL = 71.5, GT = 37, GW = 709.5, GH = 292, CP = 780.5, RP = 372.5;
const FONT = 'DejaVu Sans';
const COL = {blue:'#1f77b4', orange:'#ff7f0e', green:'#2ca02c', red:'#d62728', purple:'#9467bd', brown:'#8c564b'};
const LW = 2.08;
const DASH = [7.7, 3.3], DASHDOT = [13.3, 3.3, 2.1, 3.3], DOT = [2.1, 3.4];

function pairs(a){ const r=[]; for(let i=0;i<a.length;i+=2) r.push([a[i],a[i+1]]); return r; }
function rect(i){ return {left: GL + (i%4)*CP, top: GT + Math.floor(i/4)*RP}; }
function line(gi, name, data, color, type, z){
  return {type:'line', name:name, xAxisIndex:gi, yAxisIndex:gi, data:data, symbol:'none', showSymbol:false,
    lineStyle:{color:color, width:LW, type:type}, itemStyle:{color:color}, silent:true, animation:false, z:z||2};
}
const axLine = {show:true, onZero:false, lineStyle:{color:'#000', width:1.1}};
const axTick = {show:true, inside:false, length:5, lineStyle:{color:'#000', width:1.1}};
const labelBase = {fontSize:13.9, color:'#000', fontFamily:FONT, margin:9.5};
const nameStyle = {fontSize:13.9, color:'#000', fontFamily:FONT};
const gridLine = {show:true, lineStyle:{color:'#b0b0b0', width:1.1}};

const grids=[], xAxes=[], yAxes=[], series=[], legends=[], graphics=[];
const GREEN70 = pairs(GREEN_HEAD70.concat(GREEN_TAIL));
const GREEN58 = pairs(GREEN_HEAD58.concat(GREEN_TAIL));
const SOLLp = pairs(SOLL), VLMp = pairs(VLM);

for (let i=0;i<40;i++){
  const g = rect(i);
  grids.push({left:g.left, top:g.top, width:GW, height:GH, show:true, borderColor:'#000', borderWidth:1.1, backgroundColor:'transparent'});
  if (i >= 37){
    xAxes.push({gridIndex:i, type:'value', min:0, max:1, interval:0.2, axisLine:axLine, axisTick:axTick,
      axisLabel:Object.assign({formatter:v=>v.toFixed(1)}, labelBase), splitLine:{show:false}});
    yAxes.push({gridIndex:i, type:'value', min:0, max:1, interval:0.2, axisLine:axLine, axisTick:axTick,
      axisLabel:Object.assign({formatter:v=>v.toFixed(1)}, labelBase), splitLine:{show:false}});
    continue;
  }
  const isShort = shortPanels.indexOf(i) >= 0;
  const xr = isShort ? xRangeShort : xRangeFull;
  xAxes.push({gridIndex:i, type:'value', min:xr[0], max:xr[1], splitNumber:6, axisLine:axLine, axisTick:axTick,
    axisLabel:Object.assign({showMinLabel:false, showMaxLabel:false}, labelBase), splitLine:gridLine,
    name:'t / h', nameLocation:'middle', nameGap:29, nameTextStyle:nameStyle});
  yAxes.push({gridIndex:i, type:'value', min:yRange[0], max:yRange[1], splitNumber:5, axisLine:axLine, axisTick:axTick,
    axisLabel:Object.assign({showMinLabel:false, showMaxLabel:false}, labelBase), splitLine:gridLine,
    name:'degC/%', nameLocation:'middle', nameGap:43, nameTextStyle:nameStyle});

  // day markers
  dayLines.forEach(d => {
    if (isShort && d < xr[0]) return;
    series.push(line(i, undefined, [[d, 0], [d, 100]], COL.blue, 'solid', 1));
  });

  const p = panelPrefix[i];
  let names;
  if (i === 36){
    names = [p+'vlM', p+'rlM'];
    series.push(line(i, names[0], pairs(vl_M30R1), COL.blue, DASH));
    series.push(line(i, names[1], pairs(rl_M30R1), COL.orange, 'solid'));
  } else {
    names = [p+'vlM', p+'rlM', p+'vlReg', p+'rlReg', p+'rlSoll', p+'vPosRel'];
    const rl = pairs(panelRl[i]);
    let vp;
    if (i === 22){
      vp = pairs(vp_M12R1_low).concat(vp_M12R1_osc.map((v,k)=>[vp_M12R1_osc_t0 + k*vp_M12R1_osc_dt, v]));
    } else vp = pairs(panelVp[i]);
    series.push(line(i, names[0], VLMp, COL.blue, DASH));
    series.push(line(i, names[1], rl, COL.orange, 'solid'));
    series.push(line(i, names[2], isShort ? GREEN58 : GREEN70, COL.green, DASH));
    series.push(line(i, names[3], rl, COL.red, 'solid'));
    series.push(line(i, names[4], SOLLp, COL.purple, DASHDOT));
    series.push(line(i, names[5], vp, COL.brown, DOT));
  }

  const leg = {data:names, orient:'vertical', top:g.top+5, itemWidth:19, itemHeight:10, itemGap:5, padding:[3.5,5],
    textStyle:{fontSize:9.2, fontFamily:FONT, color:'#000'}, borderColor:'#cccccc', borderWidth:1, borderRadius:3,
    backgroundColor:'rgba(255,255,255,0.8)', selectedMode:false,
    itemStyle:{color:'rgba(0,0,0,0)', borderColor:'rgba(0,0,0,0)', borderWidth:0, opacity:0}};
  if (legendSide[i] === 'L') leg.left = g.left + 4.5; else leg.right = W - (g.left + GW) + 4;
  legends.push(leg);

  graphics.push({type:'text', x:g.left + GW/2, y:g.top - 14.5, silent:true, z:50,
    style:{text:panelTitles[i], fill:'#000', fontSize:16.67, fontFamily:FONT, font:'16.67px "DejaVu Sans"',
      align:'center', verticalAlign:'middle', textAlign:'center', textVerticalAlign:'middle'}});
}

// annotation loops
[[0, loopMod01Reg1], [22, loopMod12Reg1], [29, loopMod15Reg3]].forEach(([gi, pts]) => {
  const s = line(gi, undefined, pairs(pts), '#ff00ff', 'solid', 20);
  s.lineStyle.width = 5.5; s.smooth = 0.35; s.clip = false;
  series.push(s);
});
annotTexts.forEach(t => {
  graphics.push({type:'text', x:t.x, y:t.y, silent:true, z:60,
    style:{text:t.text, fill:'#ff0000', fontSize:40, fontFamily:FONT, font:'40px "DejaVu Sans"',
      align:'left', verticalAlign:'middle', textAlign:'left', textVerticalAlign:'middle'}});
});

const chart = echarts.init(document.getElementById('c'), null, {renderer:'canvas', width:W, height:H});
chart.setOption({animation:false, backgroundColor:'#ffffff', grid:grids, xAxis:xAxes, yAxis:yAxes,
  series:series, legend:legends, graphic:{elements:graphics}});
</script></body></html>
